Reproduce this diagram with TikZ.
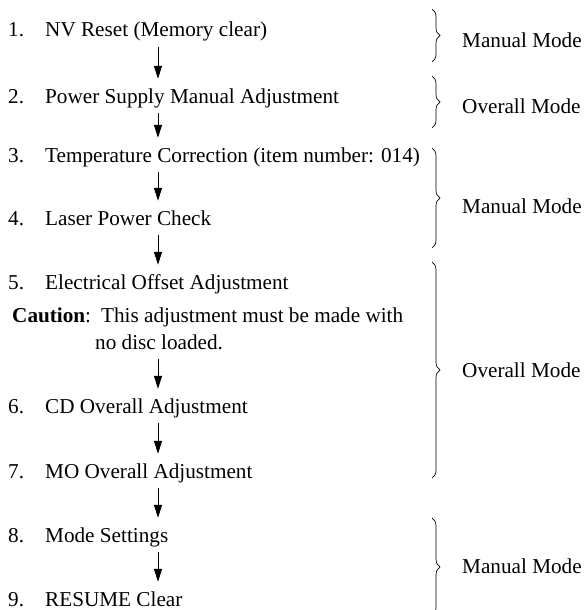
\documentclass[tikz,border=0pt]{standalone}
\usepackage{fontspec}
\setmainfont{Liberation Serif}
\usetikzlibrary{arrows.meta,decorations.pathreplacing}

\newcommand{\stagetext}[2]{\makebox[37pt][l]{#1}#2}

\begin{document}
\begin{tikzpicture}[x=1pt,y=-1pt,
		every node/.style={font=\fontsize{21.2}{27}\selectfont},
		stage/.style={anchor=base west,inner xsep=0pt,inner ysep=5pt,text height=15pt,text depth=5pt},
		mode/.style={anchor=base west,inner sep=0pt},
		flow/.style={line width=1pt,-{Triangle[length=13pt,width=8pt]},shorten >=4pt},
		modebrace/.style={line width=0.7pt,decorate,decoration={brace,amplitude=8pt}}]
	\useasboundingbox (0,0) rectangle (587,610);
	\coordinate (ax) at (158,0);
	\node[stage] (s1) at (8,37) {\stagetext{1.}{NV Reset (Memory clear)}};
	\node[stage] (s2) at (8,103) {\stagetext{2.}{Power Supply Manual Adjustment}};
	\node[stage] (s3) at (8,162) {\stagetext{3.}{Temperature Correction (item number: 014)}};
	\node[stage] (s4) at (8,225) {\stagetext{4.}{Laser Power Check}};
	\node[stage] (s5) at (8,289) {\stagetext{5.}{Electrical Offset Adjustment}};
	\node[stage] (caution) at (12,322) {\textbf{Caution}:\hspace{10pt}This adjustment must be made with};
	\node[stage] (cont) at (95,349) {no disc loaded.};
	\node[stage] (s6) at (8,413) {\stagetext{6.}{CD Overall Adjustment}};
	\node[stage] (s7) at (8,478) {\stagetext{7.}{MO Overall Adjustment}};
	\node[stage] (s8) at (8,542) {\stagetext{8.}{Mode Settings}};
	\node[stage] (s9) at (8,606) {\stagetext{9.}{RESUME Clear}};
	\draw[flow] (s1.south -| ax) -- (s2.north -| ax);
	\draw[flow] (s2.south -| ax) -- (s3.north -| ax);
	\draw[flow] (s3.south -| ax) -- (s4.north -| ax);
	\draw[flow] (s4.south -| ax) -- (s5.north -| ax);
	\draw[flow] (cont.south -| ax) -- (s6.north -| ax);
	\draw[flow] (s6.south -| ax) -- (s7.north -| ax);
	\draw[flow] (s7.south -| ax) -- (s8.north -| ax);
	\draw[flow] (s8.south -| ax) -- (s9.north -| ax);
	\draw[modebrace] (432,9) -- (432,62);
	\draw[modebrace] (432,76) -- (432,128);
	\draw[modebrace] (432,148) -- (432,248);
	\draw[modebrace] (432,262) -- (432,478);
	\draw[modebrace] (432,518) -- (432,616);
	\node[mode] (m1) at (462,48) {Manual Mode};
	\node[mode] (m2) at (462,113) {Overall Mode};
	\node[mode] (m3) at (462,213) {Manual Mode};
	\node[mode] (m4) at (462,377) {Overall Mode};
	\node[mode] (m5) at (462,573) {Manual Mode};
\end{tikzpicture}
\end{document}
